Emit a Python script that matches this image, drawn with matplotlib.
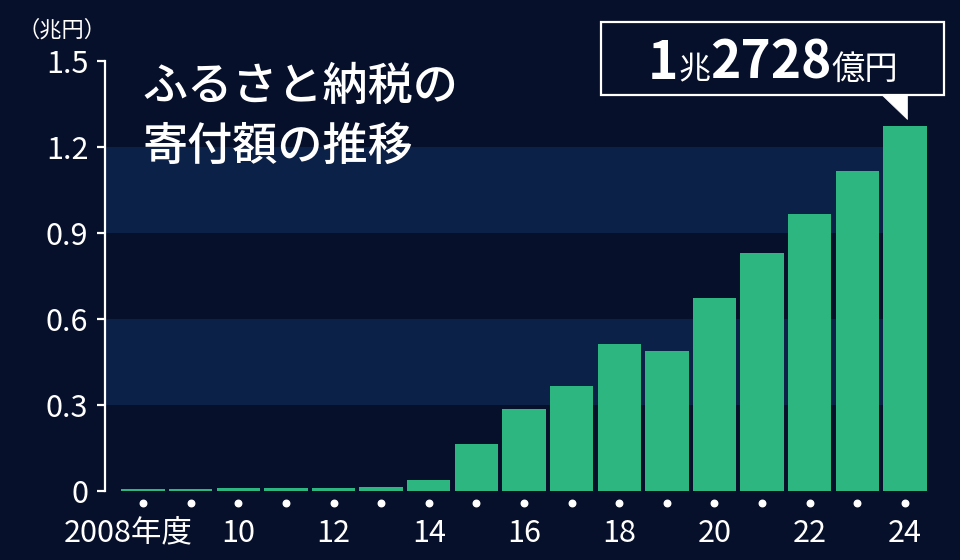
import matplotlib
matplotlib.use("Agg")
import matplotlib.pyplot as plt
import matplotlib.transforms as mtransforms
from matplotlib.patches import Rectangle, Polygon
from matplotlib.text import Annotation

plt.rcParams["font.family"] = ["Noto Sans CJK JP", "DejaVu Sans"]

years = list(range(2008, 2025))
amounts = [0.0081, 0.0077, 0.0102, 0.0122, 0.0104, 0.0146, 0.0389, 0.1653,
           0.2844, 0.3653, 0.5127, 0.4875, 0.6725, 0.8302, 0.9654, 1.1175, 1.2728]
y_ticks = [0, 0.3, 0.6, 0.9, 1.2, 1.5]
y_tick_labels = ["0", "0.3", "0.6", "0.9", "1.2", "1.5"]
x_label_years = [2008, 2010, 2012, 2014, 2016, 2018, 2020, 2022, 2024]
x_labels = ["2008年度", "10", "12", "14", "16", "18", "20", "22", "24"]
bands = [(0.3, 0.6), (0.9, 1.2)]

BG = "#07102a"
BAND = "#0c2148"
GREEN = "#2db67f"
W, H = 960, 560


def px(x, y):
    # pixel (from top-left) to figure fraction
    return x / W, 1 - y / H


fig = plt.figure(figsize=(9.6, 5.6), dpi=100, facecolor=BG)
ax = fig.add_axes([105 / W, 69 / H, 838 / W, 430 / H])
ax.set_facecolor(BG)
ax.set_xlim(2007.2, 2024.8)
ax.set_ylim(0, 1.5)

for lo, hi in bands:
    ax.fill_between([2007.2, 2024], lo, hi, color=BAND, lw=0, zorder=0)

ax.bar(years, amounts, width=0.91, color=GREEN, zorder=2)

ax.scatter(years, [-0.042] * len(years), s=22, color="white", clip_on=False, zorder=3)

for yr, lab in zip(x_label_years, x_labels):
    off = -15 if lab.endswith("年度") else 0
    tr = mtransforms.offset_copy(ax.transData, fig=fig, x=off, y=0, units="dots")
    ax.text(yr, -0.147, lab, transform=tr, ha="center", va="center",
            color="white", fontsize=22, clip_on=False)

for side in ("top", "right", "bottom"):
    ax.spines[side].set_visible(False)
ax.spines["left"].set_color("white")
ax.spines["left"].set_linewidth(1.6)
ax.set_xticks([])
ax.set_yticks(y_ticks)
ax.set_yticklabels(y_tick_labels)
ax.tick_params(axis="y", colors="white", labelsize=22, length=6, width=1.6, pad=6)

fig.text(*px(62, 30), "（兆円）", color="white", fontsize=16, ha="center", va="center")

fig.text(*px(142, 86), "ふるさと納税の", color="white", fontsize=32.5,
         ha="left", va="center", fontweight="medium")
fig.text(*px(142, 146), "寄付額の推移", color="white", fontsize=32.5,
         ha="left", va="center", fontweight="medium")

# callout box
x0, y0 = px(601, 95)
x1, y1 = px(944, 22)
fig.patches.append(Rectangle((x0, y0), x1 - x0, y1 - y0, transform=fig.transFigure,
                             facecolor=BG, edgecolor="white", lw=1.6, zorder=1))
fig.patches.append(Polygon([px(881, 94), px(907, 94), px(907, 119)], closed=True,
                           transform=fig.transFigure, facecolor="white",
                           edgecolor="white", lw=0.5, zorder=1))

base_y = 1 - 79 / H
pieces = [("1", 37, "bold"), ("兆", 23, "normal"), ("2728", 37, "bold"), ("億円", 24, "normal")]
prev = fig.text(648 / W, base_y, pieces[0][0], color="white", fontsize=pieces[0][1],
                fontweight=pieces[0][2], ha="left", va="baseline", zorder=5)
for s, fs, fw in pieces[1:]:
    ann = Annotation(s, xy=(1, base_y), xycoords=(prev, fig.transFigure), color="white",
                     fontsize=fs, fontweight=fw, ha="left", va="baseline",
                     annotation_clip=False, zorder=5)
    fig.add_artist(ann)
    prev = ann

fig.savefig("out.png", dpi=100, facecolor=BG)
